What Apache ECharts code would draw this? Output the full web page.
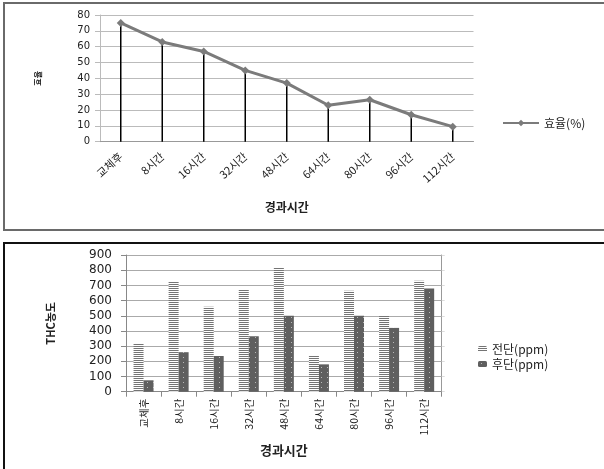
<!DOCTYPE html>
<html>
<head>
<meta charset="utf-8">
<script src="https://cdn.jsdelivr.net/npm/echarts@6/dist/echarts.min.js"></script>
<style>html,body{margin:0;padding:0;background:#fff}#c{width:604px;height:469px}</style>
</head>
<body>
<div id="c"></div>
<script>
// ---- data ----
var categories = ['교체후','8시간','16시간','32시간','48시간','64시간','80시간','96시간','112시간'];
var efficiency = [75, 63, 57, 45, 37, 23, 26.5, 17, 9.5];
var frontTHC = [315, 725, 560, 670, 815, 235, 665, 500, 730];
var rearTHC = [75, 260, 235, 365, 500, 180, 500, 420, 680];
var effTicks = {min: 0, max: 80, interval: 10};
var thcTicks = {min: 0, max: 900, interval: 100};

function makePattern(w, h, draw) {
  var cv = document.createElement('canvas');
  cv.width = w; cv.height = h;
  var ctx = cv.getContext('2d');
  draw(ctx);
  return {image: cv, repeat: 'repeat'};
}
var stripe = makePattern(1, 2, function (ctx) {
  ctx.fillStyle = '#ffffff'; ctx.fillRect(0, 0, 1, 2);
  ctx.fillStyle = '#747474'; ctx.fillRect(0, 0, 1, 1);
});
var dots = makePattern(6, 5, function (ctx) {
  ctx.fillStyle = '#5f5f5f'; ctx.fillRect(0, 0, 6, 5);
  ctx.fillStyle = '#b8b8b8'; ctx.fillRect(3, 2, 1, 1);
});

var KR = '"Noto Sans CJK KR", sans-serif';
var NUM = '"DejaVu Sans", sans-serif';

var chart = echarts.init(document.getElementById('c'), null, {renderer: 'canvas'});
chart.setOption({
  animation: false,
  backgroundColor: '#fff',
  graphic: [
    {type: 'rect', shape: {x: 4, y: 3, width: 640, height: 227}, style: {fill: 'none', stroke: '#6a6a6a', lineWidth: 2}, z: 100},
    {type: 'rect', shape: {x: 4, y: 243, width: 640, height: 260}, style: {fill: 'none', stroke: '#111', lineWidth: 2}, z: 100}
  ],
  grid: [
    {left: 100, top: 15, width: 373.5, height: 126.7},
    {left: 126, top: 255, width: 315.7, height: 136.7}
  ],
  legend: [
    {
      data: ['효율(%)'], left: 497, top: 112, itemWidth: 36, itemHeight: 8,
      textStyle: {fontFamily: KR, fontSize: 12, color: '#222'}
    },
    {
      data: ['전단(ppm)', '후단(ppm)'], orient: 'vertical', left: 473, top: 338,
      itemWidth: 9, itemHeight: 6, itemGap: 3,
      textStyle: {fontFamily: KR, fontSize: 12, color: '#222'}
    }
  ],
  xAxis: [
    {
      type: 'category', gridIndex: 0, data: categories, boundaryGap: true,
      axisLine: {lineStyle: {color: '#999', width: 1}},
      axisTick: {show: false},
      axisLabel: {rotate: 42, margin: 13, fontFamily: KR, fontSize: 11, color: '#222'},
      name: '경과시간', nameLocation: 'middle', nameGap: 60,
      nameTextStyle: {fontFamily: KR, fontSize: 12, fontWeight: 'bold', color: '#222'}
    },
    {
      type: 'category', gridIndex: 1, data: categories, boundaryGap: true,
      axisLine: {lineStyle: {color: '#888', width: 1}},
      axisTick: {show: true, length: 5, lineStyle: {color: '#888'}},
      axisLabel: {rotate: 90, margin: 7, fontFamily: KR, fontSize: 10.5, color: '#222'},
      name: '경과시간', nameLocation: 'middle', nameGap: 52,
      nameTextStyle: {fontFamily: KR, fontSize: 13, fontWeight: 'bold', color: '#222'}
    }
  ],
  yAxis: [
    {
      type: 'value', gridIndex: 0, min: effTicks.min, max: effTicks.max, interval: effTicks.interval,
      axisLine: {show: true, lineStyle: {color: '#bbb'}},
      axisTick: {show: true, length: 5, lineStyle: {color: '#bbb'}},
      splitLine: {lineStyle: {color: '#bbb', width: 1}},
      axisLabel: {fontFamily: NUM, fontSize: 10, color: '#222', margin: 10},
      name: '효율', nameLocation: 'middle', nameGap: 58, nameRotate: 90,
      nameTextStyle: {fontFamily: KR, fontSize: 8, fontWeight: 'bold', color: '#222'}
    },
    {
      type: 'value', gridIndex: 1, min: thcTicks.min, max: thcTicks.max, interval: thcTicks.interval,
      axisLine: {show: true, lineStyle: {color: '#888'}},
      axisTick: {show: true, length: 5, lineStyle: {color: '#888'}},
      splitLine: {lineStyle: {color: '#aaa', width: 1}},
      axisLabel: {fontFamily: NUM, fontSize: 12, color: '#222', margin: 14},
      name: 'THC농도', nameLocation: 'middle', nameGap: 70, nameRotate: 90,
      nameTextStyle: {fontFamily: KR, fontSize: 11, fontWeight: 'bold', color: '#222'}
    },
    {
      type: 'value', gridIndex: 1, position: 'right', min: thcTicks.min, max: thcTicks.max, interval: thcTicks.interval,
      axisLine: {show: true, lineStyle: {color: '#999'}},
      axisTick: {show: true, length: 3, lineStyle: {color: '#ddd'}},
      splitLine: {show: false},
      axisLabel: {show: false}
    }
  ],
  series: [
    {
      name: 'drop', type: 'bar', xAxisIndex: 0, yAxisIndex: 0, data: efficiency,
      barWidth: 1.5, itemStyle: {color: '#000'}, silent: true, z: 1
    },
    {
      name: '효율(%)', type: 'line', xAxisIndex: 0, yAxisIndex: 0, data: efficiency,
      symbol: 'diamond', symbolSize: 8,
      lineStyle: {color: '#7b7b7b', width: 3},
      itemStyle: {color: '#7b7b7b'}, z: 3
    },
    {
      name: '전단(ppm)', type: 'bar', xAxisIndex: 1, yAxisIndex: 1, data: frontTHC,
      barWidth: 10, barGap: '0%', itemStyle: {color: stripe}
    },
    {
      name: '후단(ppm)', type: 'bar', xAxisIndex: 1, yAxisIndex: 1, data: rearTHC,
      barWidth: 10, barGap: '0%', itemStyle: {color: dots}
    }
  ]
});
</script>
</body>
</html>
